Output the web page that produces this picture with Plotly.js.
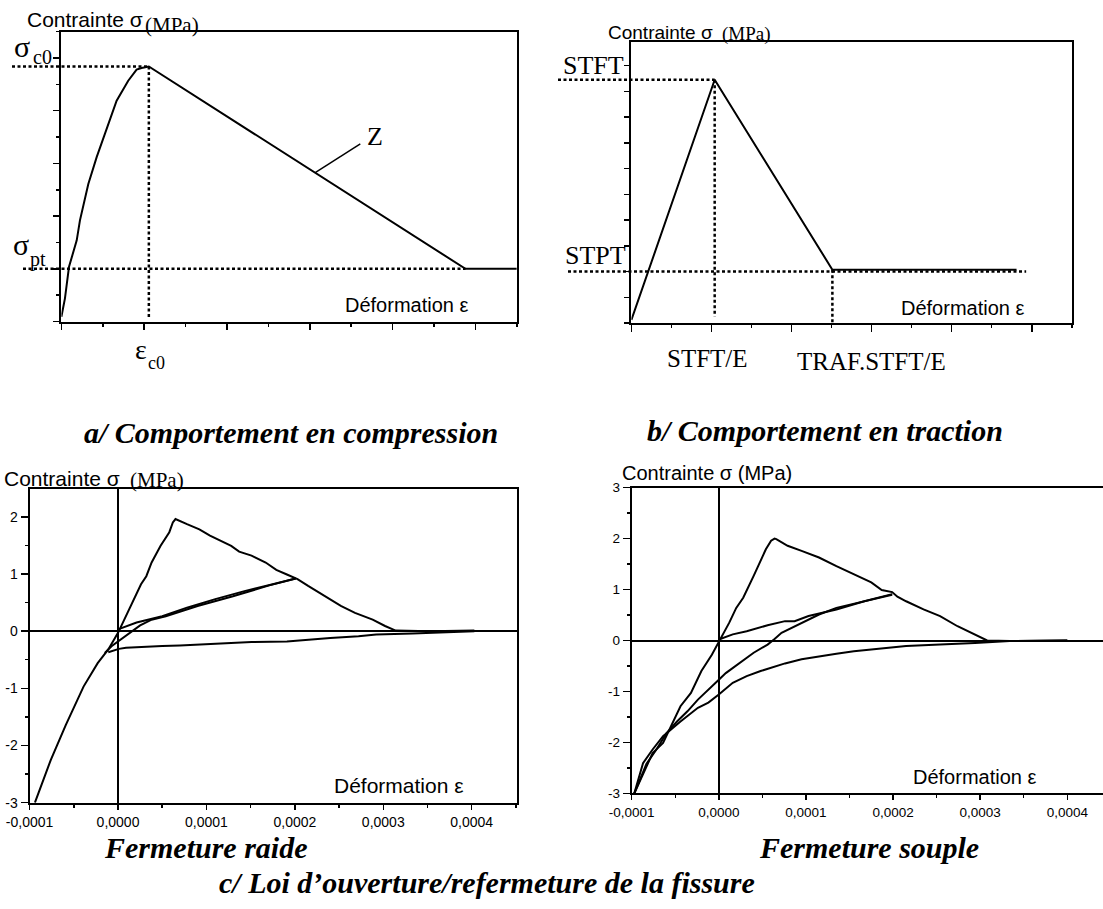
<!DOCTYPE html>
<html>
<head>
<meta charset="utf-8">
<script src="https://cdn.plot.ly/plotly-3.0.1.min.js"></script>
<style>
  html, body { margin: 0; padding: 0; background: #fff; }
  #fig { width: 1103px; height: 909px; }
</style>
</head>
<body>
<div id="fig"></div>
<script>
const W = 1103, H = 909;
const SANS = 'Liberation Sans, Arial, sans-serif';
const SERIF = 'Liberation Serif, Times New Roman, serif';

// ---- a/ compression law (schematic units) ----
const compX = [0, 0.043, 0.092, 0.185, 0.224, 0.325, 0.426, 0.566, 0.667, 0.807, 0.908, 0.968, 1.056, 4.88, 5.5];
const compY = [0.09, 0.44, 1.04, 1.54, 1.92, 2.61, 3.12, 3.72, 4.19, 4.57, 4.78, 4.81, 4.84, 1.0, 1.0];
const zLeaderX = [3.07, 3.61];
const zLeaderY = [2.83, 3.37];
const compGuideFoot = 0.08;

// ---- b/ tension law (schematic units) ----
const tracX = [0, 1.04, 2.51, 4.81];
const tracY = [0.12, 9.45, 2.07, 2.07];
const stptLevel = 2.0;
const stptGuideEnd = 4.93;
const tracGuideFoot = 0.25;

// ---- c/ crack opening / closing, stiff closure (strain, MPa) ----
const raideEnvX = [-0.94e-4, -0.76e-4, -0.59e-4, -0.39e-4, -0.23e-4, -0.11e-4, 0, 0.07e-4, 0.17e-4, 0.26e-4, 0.32e-4, 0.38e-4, 0.48e-4, 0.58e-4, 0.62e-4, 0.65e-4, 0.78e-4, 0.92e-4, 1.04e-4, 1.16e-4, 1.28e-4, 1.37e-4, 1.51e-4, 1.67e-4, 1.79e-4, 1.91e-4, 2.03e-4, 2.15e-4, 2.32e-4, 2.52e-4, 2.68e-4, 2.88e-4, 3.02e-4, 3.14e-4, 3.53e-4, 4.03e-4];
const raideEnvY = [-3.0, -2.25, -1.64, -0.97, -0.56, -0.32, -0.03, 0.2, 0.5, 0.82, 0.96, 1.2, 1.49, 1.73, 1.9, 1.96, 1.87, 1.78, 1.67, 1.58, 1.49, 1.39, 1.32, 1.2, 1.07, 0.99, 0.91, 0.79, 0.63, 0.44, 0.32, 0.2, 0.09, 0.01, 0, 0.01];
const raideReloadX = [0, 0.21e-4, 0.5e-4, 0.78e-4, 1.1e-4, 1.43e-4, 1.75e-4, 2.01e-4];
const raideReloadY = [0.03, 0.15, 0.26, 0.41, 0.56, 0.7, 0.82, 0.92];
const raideUnloadX = [2.01e-4, 1.71e-4, 1.3e-4, 0.9e-4, 0.54e-4, 0.38e-4, 0.25e-4, 0.13e-4, 0.03e-4, -0.07e-4, -0.15e-4];
const raideUnloadY = [0.92, 0.8, 0.61, 0.44, 0.26, 0.2, 0.1, -0.03, -0.15, -0.26, -0.38];
const raideCloseX = [4.03e-4, 3.53e-4, 3.33e-4, 2.92e-4, 2.72e-4, 2.4e-4, 2.11e-4, 1.91e-4, 1.51e-4, 1.39e-4, 1.02e-4, 0.7e-4, 0.5e-4, 0.29e-4, 0.09e-4, 0.01e-4, -0.11e-4];
const raideCloseY = [0, -0.02, -0.04, -0.06, -0.09, -0.12, -0.15, -0.18, -0.19, -0.2, -0.22, -0.25, -0.26, -0.27, -0.29, -0.31, -0.37];

// ---- c/ crack opening / closing, soft closure (strain, MPa) ----
const soupleEnvX = [-0.97e-4, -0.76e-4, -0.64e-4, -0.44e-4, -0.32e-4, -0.2e-4, -0.08e-4, 0, 0.12e-4, 0.2e-4, 0.28e-4, 0.4e-4, 0.5e-4, 0.54e-4, 0.6e-4, 0.64e-4, 0.66e-4, 0.79e-4, 0.95e-4, 1.15e-4, 1.35e-4, 1.55e-4, 1.75e-4, 1.87e-4, 1.99e-4, 2.05e-4, 2.15e-4, 2.35e-4, 2.54e-4, 2.74e-4, 2.94e-4, 3.08e-4, 3.34e-4, 4.0e-4];
const soupleEnvY = [-3, -2.21, -2.01, -1.29, -1.03, -0.6, -0.28, -0.03, 0.35, 0.64, 0.84, 1.27, 1.63, 1.79, 1.96, 2.0, 1.99, 1.86, 1.76, 1.63, 1.46, 1.3, 1.14, 0.99, 0.95, 0.86, 0.77, 0.61, 0.48, 0.28, 0.12, 0, -0.01, 0];
const soupleReloadX = [0, 0.16e-4, 0.32e-4, 0.56e-4, 0.76e-4, 0.87e-4, 1.03e-4, 1.35e-4, 1.67e-4, 1.99e-4];
const soupleReloadY = [0.02, 0.12, 0.18, 0.3, 0.38, 0.38, 0.48, 0.61, 0.77, 0.91];
const soupleUnloadX = [1.99e-4, 1.75e-4, 1.55e-4, 1.35e-4, 1.15e-4, 0.95e-4, 0.83e-4, 0.72e-4, 0.64e-4, 0.56e-4, 0.4e-4, 0.24e-4, 0.08e-4, 0, -0.12e-4, -0.24e-4, -0.36e-4, -0.48e-4, -0.6e-4, -0.72e-4, -0.83e-4, -0.97e-4];
const soupleUnloadY = [0.9, 0.8, 0.71, 0.64, 0.51, 0.35, 0.25, 0.15, 0.03, -0.08, -0.24, -0.44, -0.64, -0.77, -0.96, -1.16, -1.39, -1.59, -1.82, -2.15, -2.42, -3];
const soupleCloseX = [4.0e-4, 3.34e-4, 2.94e-4, 2.74e-4, 2.54e-4, 2.15e-4, 1.95e-4, 1.75e-4, 1.55e-4, 1.35e-4, 1.15e-4, 0.95e-4, 0.76e-4, 0.64e-4, 0.48e-4, 0.32e-4, 0.16e-4, 0, -0.12e-4, -0.24e-4, -0.44e-4, -0.64e-4, -0.76e-4, -0.87e-4, -0.97e-4];
const soupleCloseY = [0, -0.01, -0.05, -0.06, -0.08, -0.11, -0.14, -0.18, -0.21, -0.26, -0.31, -0.37, -0.45, -0.51, -0.6, -0.7, -0.83, -1.06, -1.22, -1.32, -1.59, -1.88, -2.14, -2.41, -3];

// ---- tick labels of the measured curves ----
const strainTickVals = [-0.0001, 0, 0.0001, 0.0002, 0.0003, 0.0004];
const strainTickText = ['-0,0001', '0,0000', '0,0001', '0,0002', '0,0003', '0,0004'];
const raideStressTicks = [-3, -2, -1, 0, 1, 2];
const soupleStressTicks = [-3, -2, -1, 0, 1, 2, 3];

// ---- subplot frames (pixels) and axis ranges ----
const frames = {
  a: {l: 61.4, r: 516.8, t: 31.7, b: 321.5},
  b: {l: 631.4, r: 1071.8, t: 41.7, b: 323},
  c: {l: 29.6, r: 516.8, t: 489.3, b: 802.7},
  d: {l: 631.7, r: 1103, t: 487.7, b: 793.3}
};
const ranges = {
  a: {x: [0, 5.5], y: [0, 5.5]},
  b: {x: [0, 5.5], y: [0, 10.93]},
  c: {x: [-1e-4, 4.51e-4], y: [-3, 2.48]},
  d: {x: [-1e-4, 4.41e-4], y: [-3, 3]}
};

const domX = f => [f.l / W, Math.min(1, f.r / W)];
const domY = f => [1 - f.b / H, 1 - f.t / H];
const pxX = (p, f) => (p - f.l) / (f.r - f.l);
const frac = (v, r) => (v - r[0]) / (r[1] - r[0]);

function axis(dom, range, extra) {
  return Object.assign({
    domain: dom, range: range, showline: true, linecolor: 'black', linewidth: 2,
    mirror: true, showgrid: false, zeroline: false, ticks: 'outside',
    tickcolor: 'black', tickwidth: 1.5, fixedrange: true,
    tickfont: {family: SANS, size: 14, color: 'black'}
  }, extra);
}
const minor = (dtick, len) => ({dtick: dtick, ticks: 'outside', ticklen: len, tickwidth: 1.5, tickcolor: 'black'});

function line(x, y, xa, ya, width) {
  return {x: x, y: y, xaxis: xa, yaxis: ya, mode: 'lines', hoverinfo: 'skip',
          line: {color: 'black', width: width || 2}};
}

const traces = [
  line(compX, compY, 'x', 'y'),
  line(zLeaderX, zLeaderY, 'x', 'y', 1.5),
  line(tracX, tracY, 'x2', 'y2'),
  line(raideEnvX, raideEnvY, 'x3', 'y3'),
  line(raideReloadX, raideReloadY, 'x3', 'y3'),
  line(raideUnloadX, raideUnloadY, 'x3', 'y3'),
  line(raideCloseX, raideCloseY, 'x3', 'y3'),
  line(soupleEnvX, soupleEnvY, 'x4', 'y4'),
  line(soupleReloadX, soupleReloadY, 'x4', 'y4'),
  line(soupleUnloadX, soupleUnloadY, 'x4', 'y4'),
  line(soupleCloseX, soupleCloseY, 'x4', 'y4')
];

// peak and residual points of the schematic laws
const compPeak = compY.indexOf(Math.max(...compY));
const compPeakX = compX[compPeak], compPeakY = compY[compPeak];
const compResidual = compY[compY.length - 1];
const compSoftEnd = compX[compX.length - 2];
const tracPeakX = tracX[1], tracPeakY = tracY[1];
const tracSoftEndX = tracX[2], tracSoftEndY = tracY[2];

const dotted = {color: 'black', width: 2.5, dash: '3px,2.5px'};
const shapes = [
  // sigma_c0 and sigma_pt guides, starting left of the stress axis
  {type: 'line', xref: 'x domain', yref: 'y', x0: pxX(12, frames.a), x1: frac(compPeakX, ranges.a.x), y0: compPeakY, y1: compPeakY, line: dotted},
  {type: 'line', xref: 'x domain', yref: 'y', x0: pxX(23, frames.a), x1: frac(compSoftEnd, ranges.a.x), y0: compResidual, y1: compResidual, line: dotted},
  {type: 'line', xref: 'x', yref: 'y', x0: compPeakX, x1: compPeakX, y0: compPeakY, y1: compGuideFoot, line: dotted},
  // STFT / STPT guides
  {type: 'line', xref: 'x2 domain', yref: 'y2', x0: pxX(558, frames.b), x1: frac(tracPeakX, ranges.b.x), y0: tracPeakY, y1: tracPeakY, line: dotted},
  {type: 'line', xref: 'x2', yref: 'y2', x0: tracPeakX, x1: tracPeakX, y0: tracPeakY, y1: tracGuideFoot, line: dotted},
  {type: 'line', xref: 'x2 domain', yref: 'y2', x0: pxX(568, frames.b), x1: frac(stptGuideEnd, ranges.b.x), y0: stptLevel, y1: stptLevel, line: dotted},
  {type: 'line', xref: 'x2', yref: 'y2', x0: tracSoftEndX, x1: tracSoftEndX, y0: tracSoftEndY, y1: 0, line: dotted}
];

function label(text, x, y, font, xanchor, yanchor) {
  return {text: text, x: x / W, y: 1 - y / H, xref: 'paper', yref: 'paper',
          xanchor: xanchor || 'center', yanchor: yanchor || 'middle',
          showarrow: false, font: font};
}
const sans = s => ({family: SANS, size: s, color: 'black'});
const serif = s => ({family: SERIF, size: s, color: 'black'});
const caption = {family: SERIF, size: 30, color: 'black', weight: 'bold', style: 'italic'};

const annotations = [
  // axis titles
  label('Contrainte σ', 25, 20, sans(21), 'left'),
  label('(MPa)', 143, 25, serif(21), 'left'),
  label('Contrainte σ', 606, 32, sans(19), 'left'),
  label('(MPa)', 720, 34.5, serif(19), 'left'),
  label('Contrainte σ', 2, 478, sans(21), 'left'),
  label('(MPa)', 128, 480, serif(21), 'left'),
  label('Contrainte σ (MPa)', 620, 472.7, sans(20), 'left'),
  label('Déformation ε', 470, 305, sans(20), 'right'),
  label('Déformation ε', 1026, 308, sans(20), 'right'),
  label('Déformation ε', 466, 785, sans(21), 'right'),
  label('Déformation ε', 1038, 777, sans(20), 'right'),
  // characteristic points (symbol, then its index)
  label('σ', 12, 46, serif(30), 'left'),
  label('c0', 31, 57, serif(20), 'left'),
  label('σ', 11, 245, serif(30), 'left'),
  label('pt', 28, 259, serif(20), 'left'),
  label('ε', 133, 350, serif(28), 'left'),
  label('c0', 146, 363, serif(18), 'left'),
  label('Z', 375, 136, serif(26)),
  label('STFT', 626, 66, serif(26), 'right'),
  label('STPT', 628, 256, serif(26), 'right'),
  label('STFT/E', 707, 359, serif(25)),
  label('TRAF.STFT/E', 871, 361, serif(25)),
  // captions
  label('a/ Comportement en compression', 291, 432, caption),
  label('b/ Comportement en traction', 824.5, 430, caption),
  label('Fermeture raide', 206, 847, caption),
  label('Fermeture souple', 869, 847, caption),
  label('c/ Loi d’ouverture/refermeture de la fissure', 487, 882, caption)
];

const layout = {
  width: W, height: H,
  margin: {l: 0, r: 0, t: 0, b: 0},
  paper_bgcolor: 'white', plot_bgcolor: 'white',
  showlegend: false,
  xaxis: axis(domX(frames.a), ranges.a.x, {anchor: 'y', dtick: 1, tick0: 0, ticklen: 6, showticklabels: false, minor: minor(0.5, 3)}),
  yaxis: axis(domY(frames.a), ranges.a.y, {anchor: 'x', dtick: 1, tick0: 0, ticklen: 6, showticklabels: false, minor: minor(0.5, 3)}),
  xaxis2: axis(domX(frames.b), ranges.b.x, {anchor: 'y2', dtick: 1, tick0: 0, ticklen: 7, showticklabels: false, minor: minor(0.5, 3)}),
  yaxis2: axis(domY(frames.b), ranges.b.y, {anchor: 'x2', dtick: 1, tick0: 0, ticklen: 5, showticklabels: false}),
  xaxis3: axis(domX(frames.c), ranges.c.x, {anchor: 'y3', tickmode: 'array', tickvals: strainTickVals, ticktext: strainTickText, ticklen: 5,
           zeroline: true, zerolinecolor: 'black', zerolinewidth: 2, minor: minor(0.00005, 3)}),
  yaxis3: axis(domY(frames.c), ranges.c.y, {anchor: 'x3', tickmode: 'array', tickvals: raideStressTicks, ticktext: raideStressTicks.map(String), ticklen: 7,
           zeroline: true, zerolinecolor: 'black', zerolinewidth: 2, minor: minor(0.5, 3)}),
  xaxis4: axis(domX(frames.d), ranges.d.x, {anchor: 'y4', tickmode: 'array', tickvals: strainTickVals, ticktext: strainTickText, ticklen: 5,
           zeroline: true, zerolinecolor: 'black', zerolinewidth: 2, minor: minor(0.00005, 3), tickfont: {family: SANS, size: 13.5, color: 'black'}}),
  yaxis4: axis(domY(frames.d), ranges.d.y, {anchor: 'x4', tickmode: 'array', tickvals: soupleStressTicks, ticktext: soupleStressTicks.map(String), ticklen: 7,
           mirror: false, zeroline: true, zerolinecolor: 'black', zerolinewidth: 2, minor: minor(0.5, 3), tickfont: {family: SANS, size: 13.5, color: 'black'}}),
  shapes: shapes,
  annotations: annotations
};

Plotly.newPlot('fig', traces, layout, {staticPlot: true, displayModeBar: false});
</script>
</body>
</html>
